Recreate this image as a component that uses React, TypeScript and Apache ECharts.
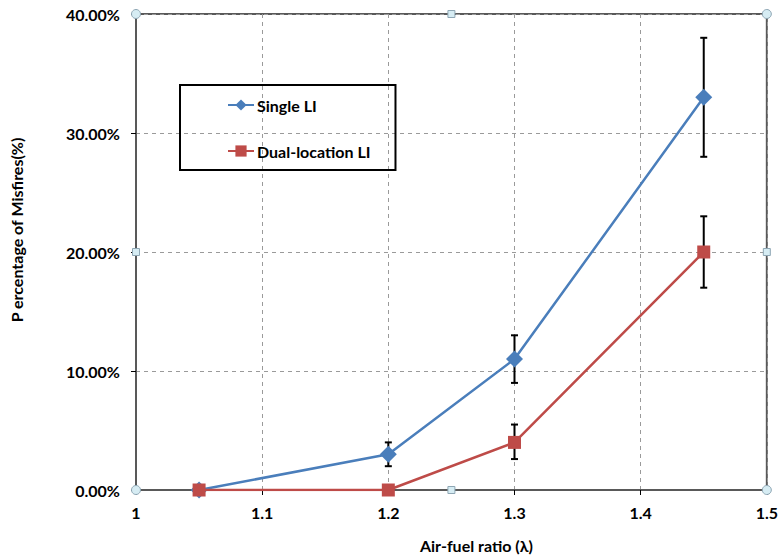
import React, { useEffect, useRef } from "react";
import * as echarts from "echarts";

const lambdaValues = [1.05, 1.2, 1.3, 1.45];
const singleLI = [0, 3, 11, 33];
const singleLow = [0, 2, 9, 28];
const singleHigh = [0, 4, 13, 38];
const dualLI = [0, 0, 4, 20];
const dualLow = [0, 0, 2.6, 17];
const dualHigh = [0, 0, 5.5, 23];
const seriesNames = ["Single LI", "Dual-location LI"];

const FONT = "Lato, 'Open Sans', sans-serif";

export default function App() {
  const ref = useRef<HTMLDivElement>(null);
  useEffect(() => {
    if (!ref.current) return;
    const chart = echarts.init(ref.current, undefined, { renderer: "svg" });
    const errRender = (params: any, api: any) => {
      const x = api.value(0);
      const lo = api.coord([x, api.value(1)]);
      const hi = api.coord([x, api.value(2)]);
      if (Math.abs(lo[1] - hi[1]) < 1) return { type: "group", children: [] };
      const w = 3.5;
      const style = { stroke: "#000", lineWidth: 2 };
      return {
        type: "group",
        children: [
          { type: "line", shape: { x1: lo[0], y1: lo[1], x2: hi[0], y2: hi[1] }, style },
          { type: "line", shape: { x1: hi[0] - w, y1: hi[1], x2: hi[0] + w, y2: hi[1] }, style },
          { type: "line", shape: { x1: lo[0] - w, y1: lo[1], x2: lo[0] + w, y2: lo[1] }, style },
        ],
      };
    };
    const option: any = {
      animation: false,
      backgroundColor: "#fff",
      grid: {
        left: 136,
        right: 12,
        top: 14,
        bottom: 69,
        show: true,
        borderColor: "#595959",
        borderWidth: 2,
      },
      legend: {
        orient: "vertical",
        left: 180,
        top: 85,
        data: seriesNames,
        borderColor: "#000",
        borderWidth: 2,
        borderRadius: 0,
        padding: [12, 25, 11, 47],
        itemGap: 30,
        itemWidth: 26,
        itemHeight: 14,
        textStyle: { fontFamily: FONT, fontWeight: "bold", fontSize: 16, color: "#000", padding: [0, 0, 0, -2] },
      },
      xAxis: {
        type: "value",
        min: 1,
        max: 1.5,
        interval: 0.1,
        name: "Air-fuel ratio (λ)",
        nameLocation: "middle",
        nameGap: 47,
        nameTextStyle: { fontFamily: FONT, fontWeight: "bold", fontSize: 16, color: "#000", padding: [0, 0, 0, 50] },
        axisLine: { show: true, lineStyle: { color: "#595959", width: 2 } },
        axisTick: { show: true, length: 5, lineStyle: { color: "#000", width: 1 } },
        axisLabel: {
          fontFamily: FONT,
          fontWeight: "bold",
          fontSize: 16,
          color: "#000",
          margin: 14,
          formatter: (v: number) => String(Math.round(v * 10) / 10),
        },
        splitLine: { show: true, lineStyle: { color: "#9a9a9a", type: [4, 4], width: 1 } },
      },
      yAxis: {
        type: "value",
        min: 0,
        max: 40,
        interval: 10,
        name: "P ercentage of Misfires(%)",
        nameLocation: "middle",
        nameGap: 112,
        nameTextStyle: { fontFamily: FONT, fontWeight: "bold", fontSize: 16, color: "#000", padding: [0, 0, 0, 44] },
        axisLine: { show: true, lineStyle: { color: "#595959", width: 2 } },
        axisTick: { show: true, length: 5, lineStyle: { color: "#000", width: 1 } },
        axisLabel: {
          fontFamily: FONT,
          fontWeight: "bold",
          fontSize: 16,
          color: "#000",
          margin: 16,
          formatter: (v: number) => v.toFixed(2) + "%",
        },
        splitLine: { show: true, lineStyle: { color: "#9a9a9a", type: [4, 4], width: 1 } },
      },
      series: [
        {
          type: "custom",
          name: "err1",
          renderItem: errRender,
          data: lambdaValues.map((x, i) => [x, singleLow[i], singleHigh[i]]),
          z: 1,
          silent: true,
        },
        {
          type: "custom",
          name: "err2",
          renderItem: errRender,
          data: lambdaValues.map((x, i) => [x, dualLow[i], dualHigh[i]]),
          z: 1,
          silent: true,
        },
        {
          type: "line",
          name: seriesNames[0],
          data: lambdaValues.map((x, i) => [x, singleLI[i]]),
          symbol: "diamond",
          symbolSize: 17,
          showAllSymbol: true,
          itemStyle: { color: "#4A7EBB" },
          lineStyle: { color: "#4A7EBB", width: 2.5 },
          z: 3,
        },
        {
          type: "line",
          name: seriesNames[1],
          data: lambdaValues.map((x, i) => [x, dualLI[i]]),
          symbol: "rect",
          symbolSize: 13,
          showAllSymbol: true,
          itemStyle: { color: "#BE4B48" },
          lineStyle: { color: "#BE4B48", width: 2.5 },
          z: 4,
        },
      ],
    };
    chart.setOption(option);

    const pts: [number, number, string][] = [
      [1, 40, "c"], [1.25, 40, "s"], [1.5, 40, "c"],
      [1, 20, "s"], [1.5, 20, "s"],
      [1, 0, "c"], [1.25, 0, "s"], [1.5, 0, "c"],
    ];
    const hstyle = { fill: "#d6ecf3", stroke: "#8ea6b4", lineWidth: 1 };
    const graphic = pts.map(([x, y, k]) => {
      const p = chart.convertToPixel({ gridIndex: 0 }, [x, y]) as number[];
      if (k === "c") {
        return { type: "circle", shape: { cx: p[0], cy: p[1], r: 4.5 }, style: hstyle, z: 100 };
      }
      return { type: "rect", shape: { x: p[0] - 3.5, y: p[1] - 3.5, width: 7, height: 7 }, style: hstyle, z: 100 };
    });
    chart.setOption({ graphic });

    return () => chart.dispose();
  }, []);
  return <div ref={ref} style={{ width: 781, height: 559, position: "absolute", left: 0, top: 0 }} />;
}
